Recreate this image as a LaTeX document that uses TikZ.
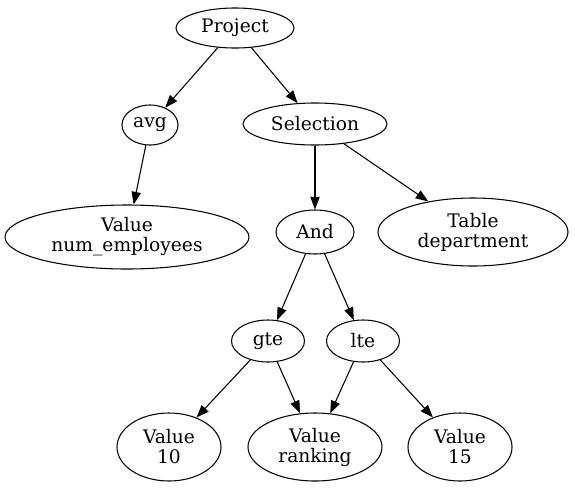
\documentclass[tikz,border=0pt]{standalone}
\usepackage{fontspec}
\setmainfont{DejaVu Serif}
\usetikzlibrary{shapes.geometric,arrows.meta}
\begin{document}
\begin{tikzpicture}[x=0.75pt,y=-0.75pt,
  nd/.style={draw,ellipse,inner sep=0pt,align=center,line width=0.8pt,
    font=\fontsize{14pt}{15pt}\selectfont},
  arr/.style={-{Triangle[length=9.5pt,width=7pt]},line width=0.8pt}]
\useasboundingbox (0,0) rectangle (575,490);
\node[nd,minimum width=118*0.75pt,minimum height=40*0.75pt] (project) at (235,28) {Project};
\node[nd,minimum width=56*0.75pt,minimum height=40*0.75pt] (avg) at (150,125) {avg};
\node[nd,minimum width=144*0.75pt,minimum height=42*0.75pt] (sel) at (315,124) {Selection};
\node[nd,minimum width=244*0.75pt,minimum height=64*0.75pt] (numemp) at (127,237) {Value\\num\_employees};
\node[nd,minimum width=78*0.75pt,minimum height=44*0.75pt] (and) at (315,232) {And};
\node[nd,minimum width=190*0.75pt,minimum height=68*0.75pt] (table) at (473,232) {Table\\department};
\node[nd,minimum width=73*0.75pt,minimum height=42*0.75pt] (gte) at (268,341) {gte};
\node[nd,minimum width=73*0.75pt,minimum height=42*0.75pt] (lte) at (363,341) {lte};
\node[nd,minimum width=104*0.75pt,minimum height=68*0.75pt] (v10) at (169,447) {Value\\10};
\node[nd,minimum width=134*0.75pt,minimum height=68*0.75pt] (rank) at (315,447) {Value\\ranking};
\node[nd,minimum width=104*0.75pt,minimum height=68*0.75pt] (v15) at (460,447) {Value\\15};
\draw[arr] (project) -- (avg);
\draw[arr] (project) -- (sel);
\draw[arr] (avg) -- (numemp);
\draw[arr] (sel) -- (and);
\draw[arr] (sel) -- (table);
\draw[arr] (and) -- (gte);
\draw[arr] (and) -- (lte);
\draw[arr] (gte) -- (v10);
\draw[arr] (gte) -- (rank);
\draw[arr] (lte) -- (rank);
\draw[arr] (lte) -- (v15);
\end{tikzpicture}
\end{document}
